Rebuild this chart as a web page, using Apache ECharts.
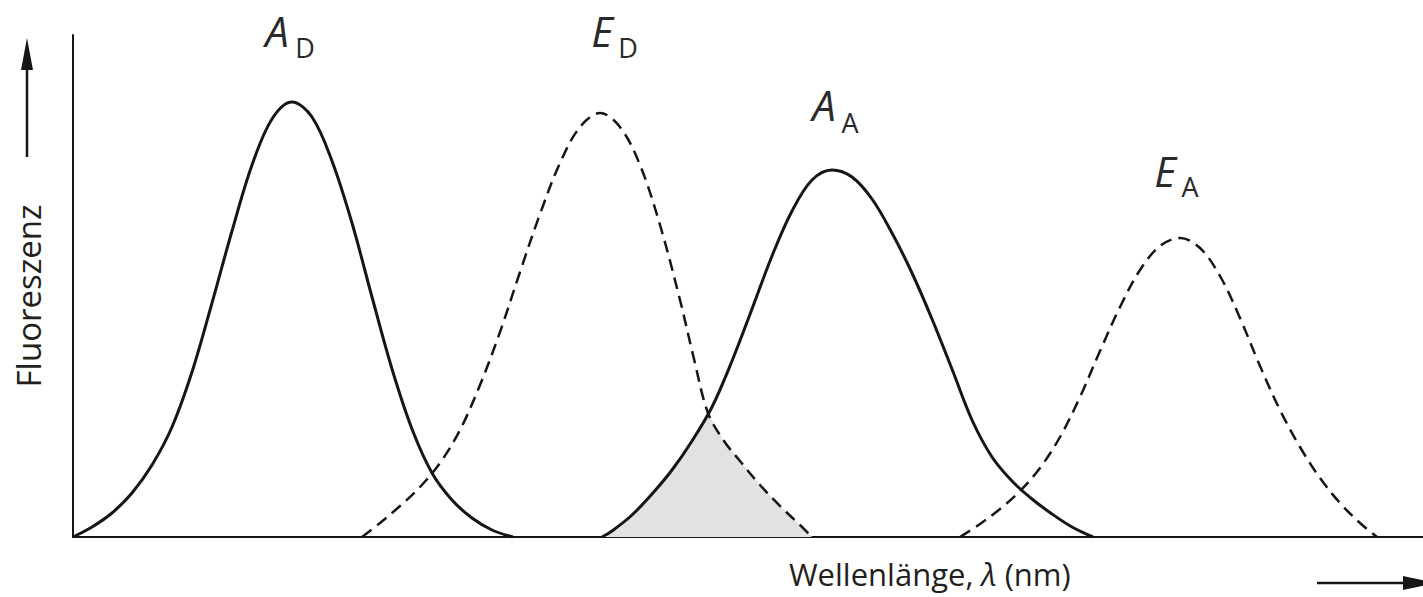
<!DOCTYPE html>
<html><head><meta charset="utf-8">
<script src="https://cdn.jsdelivr.net/npm/echarts@6/dist/echarts.min.js"></script>
<style>html,body{margin:0;padding:0;background:#fff}#c{width:1423px;height:597px}</style>
</head><body><div id="c"></div>
<script>
// Curves: [wavelength (arbitrary units), fluorescence (arbitrary units)]
const absDonor = [[0,0],[19,10],[39,24],[59,44],[79,72],[99,110],[119,165],[139,234],[159,306],[179,372],[199,418],[219,435],[239,420],[259,376],[279,314],[299,240],[319,168],[339,108],[359,64],[379,37],[399,19],[419,7],[440,0]];
const emDonor = [[289,0],[307,14],[327,31],[347,50],[367,74],[387,107],[407,152],[427,205],[447,265],[467,323],[487,374],[507,410],[527,424],[547,410],[567,372],[587,312],[607,237],[621,178],[635,124],[651,96],[667,76],[687,52],[707,31],[727,12],[739,0]];
const absAcceptor = [[529,0],[539,6],[559,22],[579,43],[599,67],[619,96],[639,130],[659,176],[679,228],[699,281],[719,326],[739,357],[759,367],[779,360],[799,338],[819,304],[839,264],[859,218],[879,168],[899,117],[919,80],[939,56],[959,38],[979,23],[999,10],[1020,0]];
const emAcceptor = [[887,0],[907,13],[927,28],[947,46],[967,69],[987,100],[1007,140],[1027,186],[1047,230],[1067,267],[1087,291],[1107,299],[1127,289],[1147,261],[1167,219],[1187,171],[1207,127],[1227,90],[1247,59],[1267,34],[1287,14],[1304,0]];
const xRange = [0, 1350];
const yRange = [0, 502];
const curveLabels = [
  {main:'A', sub:'D', mx:277, my:30, sx:305, sy:47},
  {main:'E', sub:'D', mx:602, my:30, sx:628, sy:47},
  {main:'A', sub:'A', mx:824, my:104, sx:850, sy:122},
  {main:'E', sub:'A', mx:1165, my:170, sx:1190, sy:186}
];
const xName = 'Wellenlänge, ';
const xNameSym = 'λ';
const xNameUnit = ' (nm)';
const yName = 'Fluoreszenz';

function interp(curve, x){
  if (x < curve[0][0] || x > curve[curve.length-1][0]) return 0;
  for (let i=1;i<curve.length;i++){
    if (x <= curve[i][0]){
      const [x0,y0]=curve[i-1],[x1,y1]=curve[i];
      return y0 + (y1-y0)*(x-x0)/(x1-x0);
    }
  }
  return 0;
}
// overlap of donor emission and acceptor absorption
const ovStart = absAcceptor[0][0], ovEnd = emDonor[emDonor.length-1][0];
const overlap = [];
for (let x=ovStart; x<=ovEnd; x+=2){
  overlap.push([x, Math.min(interp(emDonor,x), interp(absAcceptor,x))]);
}
overlap.push([ovEnd,0]);

const ink = '#161616';
const chart = echarts.init(document.getElementById('c'), null, {renderer:'svg'});
const graphics = [];
const FF = '"Open Sans", "Noto Sans", sans-serif';
curveLabels.forEach(l=>{
  graphics.push({type:'text', x:l.mx, y:l.my, style:{text:l.main, font:'italic 42px '+FF, fill:'#2a2a2a', align:'center', verticalAlign:'middle'}});
  graphics.push({type:'text', x:l.sx, y:l.sy, style:{text:l.sub, font:'27px '+FF, fill:'#2a2a2a', align:'center', verticalAlign:'middle'}});
});
graphics.push({type:'text', x:28, y:296, rotation:Math.PI/2, style:{text:yName, font:'33px '+FF, fill:'#231f20', align:'center', verticalAlign:'middle'}});
graphics.push({type:'text', x:789, y:574, style:{
  text:'{n|'+xName+'}{s|'+xNameSym+'}{n|'+xNameUnit+'}',
  rich:{n:{font:'31px '+FF, fill:'#231f20'}, s:{font:'italic 31px '+FF, fill:'#231f20'}},
  align:'left', verticalAlign:'middle'}});
// arrows
graphics.push({type:'line', shape:{x1:27,y1:157,x2:27,y2:62}, style:{stroke:ink, lineWidth:2.5}});
graphics.push({type:'polygon', shape:{points:[[27,38],[21,70],[33,70]]}, style:{fill:ink}});
graphics.push({type:'line', shape:{x1:1317,y1:583,x2:1410,y2:583}, style:{stroke:ink, lineWidth:2.5}});
graphics.push({type:'polygon', shape:{points:[[1403,576],[1403,590],[1436,583]]}, style:{fill:ink}});

function curve(name, data, dashed){
  return {name, type:'line', data, showSymbol:false, smooth:0.35, z:3,
    lineStyle:{color:ink, width:dashed?2.5:3, type:dashed?[12,7]:'solid'}};
}
chart.setOption({
  animation:false,
  grid:{left:73, right:0, top:35, bottom:60},
  xAxis:{type:'value', min:xRange[0], max:xRange[1], axisLine:{show:true, lineStyle:{color:ink, width:2.2}}, axisTick:{show:false}, axisLabel:{show:false}, splitLine:{show:false}},
  yAxis:{type:'value', min:yRange[0], max:yRange[1], axisLine:{show:true, lineStyle:{color:ink, width:2}}, axisTick:{show:false}, axisLabel:{show:false}, splitLine:{show:false}},
  series:[
    {name:'overlap', type:'line', data:overlap, showSymbol:false, z:1, lineStyle:{width:0}, areaStyle:{color:'#e2e2e2', opacity:1}},
    curve('A_D', absDonor, false),
    curve('E_D', emDonor, true),
    curve('A_A', absAcceptor, false),
    curve('E_A', emAcceptor, true)
  ],
  graphic:graphics
});
</script></body></html>
